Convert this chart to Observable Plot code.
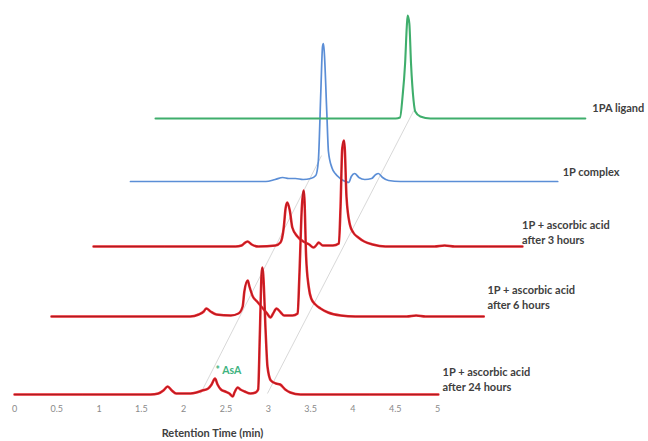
<!DOCTYPE html>
<html><head><meta charset="utf-8">
<style>html,body{margin:0;padding:0;background:#fff;}</style>
<script src="https://cdn.jsdelivr.net/npm/d3@7"></script>
<script src="https://cdn.jsdelivr.net/npm/@observablehq/plot@0.6"></script>
</head><body><div id="chart"></div>
<script>
// Each trace: [retention time (min, local), signal (a.u.)]
const trace24h = [[0,0],[1.61,0],[1.70,1],[1.76,4],[1.81,8],[1.86,4],[1.91,1],[2.08,1],[2.15,2],[2.22,4],[2.29,6],[2.33,10],[2.37,16],[2.40,10],[2.44,5],[2.49,3],[2.54,1],[2.58,-2],[2.60,2],[2.64,7],[2.67,5],[2.72,3],[2.79,1],[2.85,2],[2.88,5],[2.90,60],[2.92,120],[2.93,127],[2.94,120],[2.97,60],[2.99,28],[3.03,14],[3.09,11],[3.14,10],[3.20,5],[3.26,2],[3.38,0],[5.01,0]];
const trace6h = [[0,0],[1.64,0],[1.74,2],[1.80,5],[1.83,8],[1.88,5],[1.95,2],[2.12,1],[2.21,3],[2.26,10],[2.28,25],[2.32,36],[2.34,30],[2.38,20],[2.43,15],[2.50,8],[2.54,4],[2.59,-1],[2.62,3],[2.66,8],[2.71,4],[2.75,1],[2.85,1],[2.91,3],[2.93,40],[2.96,110],[2.98,126],[2.99,118],[3.01,60],[3.04,30],[3.07,18],[3.12,12],[3.18,8],[3.27,4],[3.42,1],[3.59,0],[4.20,0],[4.31,1],[4.42,0],[5.11,0]];
const trace3h = [[0,0],[1.68,0],[1.75,1],[1.78,3],[1.82,5],[1.87,2],[1.95,0],[2.15,1],[2.21,4],[2.25,20],[2.27,38],[2.29,44],[2.32,36],[2.35,19],[2.41,10],[2.48,5],[2.55,2],[2.60,-1],[2.64,2],[2.66,4],[2.71,1],[2.83,1],[2.90,3],[2.92,40],[2.94,98],[2.96,106],[2.97,98],[2.99,50],[3.03,22],[3.07,14],[3.13,9],[3.20,5],[3.30,2],[3.45,0],[4.03,0],[4.15,1],[4.27,0],[5.07,0]];
const trace1P = [[0,0],[1.60,0],[1.71,2],[1.80,4],[1.87,3],[1.95,3],[2.04,2],[2.13,3],[2.19,6],[2.22,20],[2.25,90],[2.27,135],[2.28,138],[2.29,130],[2.32,70],[2.34,30],[2.38,14],[2.42,8],[2.48,3],[2.54,0],[2.58,-1],[2.61,5],[2.65,8],[2.70,4],[2.77,2],[2.85,3],[2.90,7],[2.93,8],[2.98,4],[3.05,1],[3.19,0],[5.05,0]];
const trace1PA = [[0,0],[2.84,0],[2.89,1],[2.92,22],[2.95,55],[2.97,92],[2.98,103],[3.00,95],[3.02,55],[3.05,18],[3.07,7],[3.13,2],[3.25,0],[5.08,0]];

const traceNames = ["24h","6h","3h","1P","1PA"];
const traceData = [trace24h, trace6h, trace3h, trace1P, trace1PA];
const offsetX = [0, 0.437, 0.934, 1.371, 1.667];   // min
const offsetY = [1, 79, 149, 214, 277];             // a.u.

const labelText = ["1P + ascorbic acid\nafter 24 hours","1P + ascorbic acid\nafter 6 hours","1P + ascorbic acid\nafter 3 hours","1P complex","1PA ligand"];
const labelX = [5.06, 5.59, 6.00, 6.48, 6.83];
const labelY = [17, 99, 164, 224, 288];

const xTicks = [0,0.5,1,1.5,2,2.5,3,3.5,4,4.5,5];
const guideX1 = [2.20, 2.99], guideY1 = [2, 2];
const guideX2 = [3.63, 4.72], guideY2 = [240, 285];

const rows = [];
traceData.forEach((tr, i) => tr.forEach(([t, v]) => rows.push({trace: traceNames[i], x: t + offsetX[i], y: v + offsetY[i]})));
const sel = n => rows.filter(r => r.trace === n);
const labels = labelText.map((s, i) => ({s, x: labelX[i], y: labelY[i]}));
const guides = guideX1.map((d, i) => ({x1: d, y1: guideY1[i], x2: guideX2[i], y2: guideY2[i]}));

const redLine = n => [
  Plot.line(sel(n), {x: "x", y: "y", curve: "monotone-x", stroke: "#e8222a", strokeWidth: 2.5}),
  Plot.line(sel(n), {x: "x", y: "y", curve: "monotone-x", stroke: "#9c1c20", strokeWidth: 0.8})
];

const chart = Plot.plot({
  width: 648, height: 441,
  marginLeft: 14, marginRight: 0, marginTop: 15, marginBottom: 46,
  style: {fontFamily: "Lato, sans-serif", background: "#fff"},
  x: {domain: [0, 7.494], ticks: xTicks, tickSize: 0, tickPadding: 10, label: null, tickFormat: d => String(d)},
  y: {domain: [0, 380], axis: null},
  marks: [
    Plot.link(guides, {x1: "x1", y1: "y1", x2: "x2", y2: "y2", stroke: "#d4d4d4", strokeWidth: 0.9}),
    Plot.line(sel("1P"), {x: "x", y: "y", curve: "monotone-x", stroke: "#5b8ed6", strokeWidth: 1.7}),
    ...redLine("3h"),
    ...redLine("6h"),
    ...redLine("24h"),
    Plot.line(sel("1PA"), {x: "x", y: "y", curve: "monotone-x", stroke: "#3fae6c", strokeWidth: 2.1}),
    Plot.text(labels, {x: "x", y: "y", text: "s", textAnchor: "start", lineAnchor: "middle", lineHeight: 1.4, fontSize: 11, fontWeight: "bold", fill: "#404040"}),
    Plot.text(["* AsA"], {x: 2.376, y: 25, textAnchor: "start", fontSize: 10.5, fontWeight: "bold", fill: "#3fb37f"}),
    Plot.text(["Retention Time (min)"], {x: 2.34, frameAnchor: "bottom", dy: 41, fontSize: 11, fontWeight: "bold", fill: "#404040"})
  ]
});
chart.querySelectorAll('g[aria-label="x-axis tick label"]').forEach(e => { e.setAttribute("fill", "#8a8a8a"); e.setAttribute("font-size", "9"); });
document.getElementById("chart").appendChild(chart);
</script>
</body></html>
